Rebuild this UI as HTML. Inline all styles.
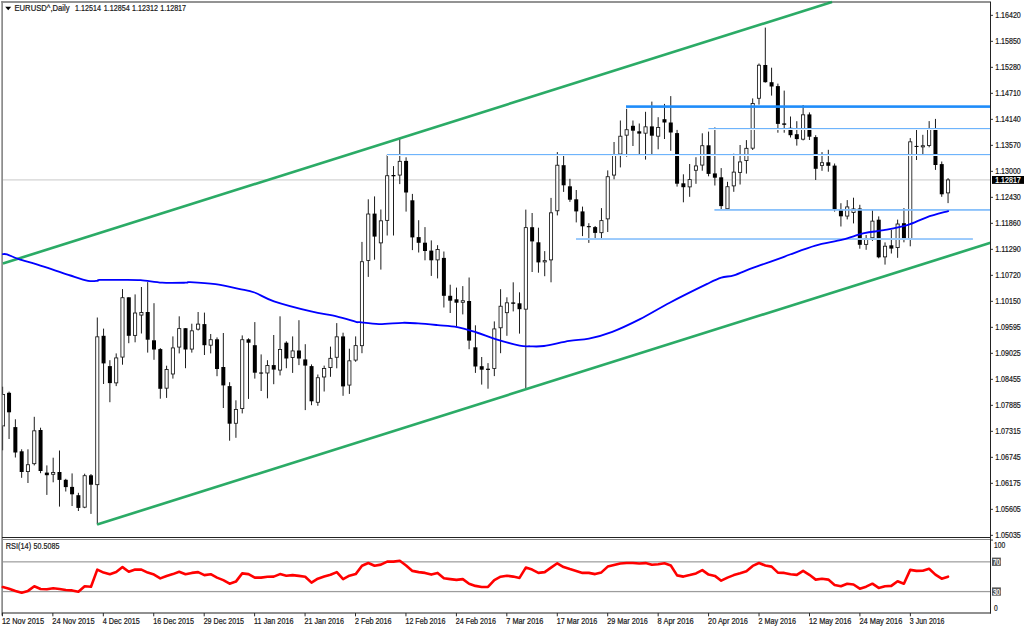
<!DOCTYPE html>
<html><head><meta charset="utf-8"><title>EURUSD Daily</title>
<style>html,body{margin:0;padding:0;background:#fff;width:1024px;height:630px;overflow:hidden;font-family:"Liberation Sans",sans-serif}</style>
</head><body>
<svg width="1024" height="630" viewBox="0 0 1024 630" style="position:absolute;left:0;top:0;display:block" font-family="'Liberation Sans', sans-serif">
<rect x="0" y="0" width="1024" height="630" fill="#fff"/>
<rect x="3" y="179.3" width="987.5" height="1.2" fill="#d2d2d2"/>
<rect x="1.3" y="1.1" width="989.7" height="1.8" fill="#888"/>
<rect x="1.3" y="1" width="1.65" height="614.5" fill="#888"/>
<clipPath id="cc"><rect x="2.25" y="2" width="990" height="536"/></clipPath><g clip-path="url(#cc)">
<rect x="2.3" y="386.70" width="0.8" height="7.40" fill="#000"/>
<rect x="2.3" y="426.30" width="0.8" height="24.00" fill="#000"/>
<rect x="2.9" y="394.10" width="1.5" height="32.20" fill="#fff"/>
<rect x="2.3" y="394.10" width="2.5" height="0.85" fill="#151515"/>
<rect x="2.3" y="425.45" width="2.5" height="0.85" fill="#151515"/>
<rect x="4.0" y="394.10" width="0.8" height="32.20" fill="#151515"/>
<rect x="8.58" y="391.60" width="0.95" height="47.40" fill="#111"/>
<rect x="7.05" y="392.80" width="4.00" height="19.50" fill="#000"/>
<rect x="14.88" y="419.30" width="0.95" height="38.20" fill="#111"/>
<rect x="13.35" y="427.10" width="4.00" height="25.40" fill="#000"/>
<rect x="21.18" y="449.30" width="0.95" height="28.50" fill="#111"/>
<rect x="19.66" y="451.30" width="4.00" height="20.70" fill="#000"/>
<rect x="27.48" y="449.30" width="0.95" height="33.70" fill="#111"/>
<rect x="26.38" y="464.72" width="3.16" height="6.86" fill="#fff" stroke="#151515" stroke-width="0.85"/>
<rect x="33.78" y="416.80" width="0.95" height="48.60" fill="#111"/>
<rect x="32.68" y="430.82" width="3.16" height="32.86" fill="#fff" stroke="#151515" stroke-width="0.85"/>
<rect x="40.09" y="427.70" width="0.95" height="45.50" fill="#111"/>
<rect x="38.56" y="430.00" width="4.00" height="41.00" fill="#000"/>
<rect x="46.39" y="465.40" width="0.95" height="29.50" fill="#111"/>
<rect x="44.86" y="472.60" width="4.00" height="2.60" fill="#000"/>
<rect x="52.69" y="457.70" width="0.95" height="24.60" fill="#111"/>
<rect x="51.59" y="472.42" width="3.16" height="1.86" fill="#fff" stroke="#151515" stroke-width="0.85"/>
<rect x="58.99" y="450.50" width="0.95" height="56.10" fill="#111"/>
<rect x="57.47" y="472.00" width="4.00" height="7.90" fill="#000"/>
<rect x="65.30" y="478.80" width="0.95" height="12.70" fill="#111"/>
<rect x="63.77" y="479.80" width="4.00" height="7.30" fill="#000"/>
<rect x="71.60" y="473.40" width="0.95" height="32.60" fill="#111"/>
<rect x="70.07" y="486.90" width="4.00" height="7.40" fill="#000"/>
<rect x="77.90" y="492.80" width="0.95" height="18.20" fill="#111"/>
<rect x="76.37" y="495.20" width="4.00" height="12.70" fill="#000"/>
<rect x="84.20" y="473.70" width="0.95" height="34.50" fill="#111"/>
<rect x="83.10" y="475.72" width="3.16" height="31.46" fill="#fff" stroke="#151515" stroke-width="0.85"/>
<rect x="90.50" y="474.00" width="0.95" height="39.90" fill="#111"/>
<rect x="88.98" y="475.30" width="4.00" height="9.40" fill="#000"/>
<rect x="96.81" y="317.50" width="0.95" height="207.00" fill="#111"/>
<rect x="95.70" y="336.82" width="3.16" height="147.86" fill="#fff" stroke="#151515" stroke-width="0.85"/>
<rect x="103.11" y="328.60" width="0.95" height="55.40" fill="#111"/>
<rect x="101.58" y="335.80" width="4.00" height="27.60" fill="#000"/>
<rect x="109.41" y="360.20" width="0.95" height="42.00" fill="#111"/>
<rect x="107.88" y="366.10" width="4.00" height="17.00" fill="#000"/>
<rect x="115.71" y="353.40" width="0.95" height="32.70" fill="#111"/>
<rect x="114.61" y="357.92" width="3.16" height="24.96" fill="#fff" stroke="#151515" stroke-width="0.85"/>
<rect x="122.01" y="289.10" width="0.95" height="75.60" fill="#111"/>
<rect x="120.91" y="297.72" width="3.16" height="59.36" fill="#fff" stroke="#151515" stroke-width="0.85"/>
<rect x="128.31" y="297.30" width="0.95" height="45.90" fill="#111"/>
<rect x="126.79" y="297.30" width="4.00" height="38.50" fill="#000"/>
<rect x="134.62" y="294.40" width="0.95" height="47.90" fill="#111"/>
<rect x="133.51" y="313.02" width="3.16" height="22.36" fill="#fff" stroke="#151515" stroke-width="0.85"/>
<rect x="140.92" y="287.00" width="0.95" height="46.50" fill="#111"/>
<rect x="139.81" y="312.42" width="3.16" height="2.66" fill="#fff" stroke="#151515" stroke-width="0.85"/>
<rect x="147.22" y="282.10" width="0.95" height="70.50" fill="#111"/>
<rect x="145.70" y="312.00" width="4.00" height="27.70" fill="#000"/>
<rect x="153.52" y="303.20" width="0.95" height="56.60" fill="#111"/>
<rect x="152.00" y="340.30" width="4.00" height="9.20" fill="#000"/>
<rect x="159.82" y="348.10" width="0.95" height="50.60" fill="#111"/>
<rect x="158.30" y="349.10" width="4.00" height="39.70" fill="#000"/>
<rect x="166.13" y="365.70" width="0.95" height="32.20" fill="#111"/>
<rect x="165.02" y="369.42" width="3.16" height="18.76" fill="#fff" stroke="#151515" stroke-width="0.85"/>
<rect x="172.43" y="336.40" width="0.95" height="42.20" fill="#111"/>
<rect x="171.32" y="347.92" width="3.16" height="26.06" fill="#fff" stroke="#151515" stroke-width="0.85"/>
<rect x="178.73" y="316.30" width="0.95" height="37.10" fill="#111"/>
<rect x="177.63" y="328.62" width="3.16" height="18.46" fill="#fff" stroke="#151515" stroke-width="0.85"/>
<rect x="185.03" y="328.20" width="0.95" height="40.00" fill="#111"/>
<rect x="183.51" y="328.20" width="4.00" height="21.30" fill="#000"/>
<rect x="191.34" y="323.70" width="0.95" height="28.90" fill="#111"/>
<rect x="190.23" y="330.82" width="3.16" height="18.26" fill="#fff" stroke="#151515" stroke-width="0.85"/>
<rect x="197.64" y="312.00" width="0.95" height="18.50" fill="#111"/>
<rect x="196.53" y="324.12" width="3.16" height="5.06" fill="#fff" stroke="#151515" stroke-width="0.85"/>
<rect x="203.94" y="312.60" width="0.95" height="42.40" fill="#111"/>
<rect x="202.41" y="324.10" width="4.00" height="21.10" fill="#000"/>
<rect x="210.24" y="334.00" width="0.95" height="19.40" fill="#111"/>
<rect x="209.14" y="339.72" width="3.16" height="5.46" fill="#fff" stroke="#151515" stroke-width="0.85"/>
<rect x="216.54" y="337.40" width="0.95" height="38.80" fill="#111"/>
<rect x="215.02" y="339.30" width="4.00" height="29.70" fill="#000"/>
<rect x="222.84" y="333.00" width="0.95" height="75.00" fill="#111"/>
<rect x="221.32" y="367.00" width="4.00" height="18.40" fill="#000"/>
<rect x="229.15" y="382.20" width="0.95" height="58.50" fill="#111"/>
<rect x="227.62" y="386.10" width="4.00" height="37.60" fill="#000"/>
<rect x="235.45" y="400.30" width="0.95" height="37.50" fill="#111"/>
<rect x="234.34" y="409.42" width="3.16" height="13.86" fill="#fff" stroke="#151515" stroke-width="0.85"/>
<rect x="241.75" y="335.40" width="0.95" height="78.00" fill="#111"/>
<rect x="240.65" y="339.72" width="3.16" height="68.86" fill="#fff" stroke="#151515" stroke-width="0.85"/>
<rect x="248.05" y="338.30" width="0.95" height="60.60" fill="#111"/>
<rect x="246.53" y="339.30" width="4.00" height="3.40" fill="#000"/>
<rect x="254.35" y="322.10" width="0.95" height="56.50" fill="#111"/>
<rect x="252.83" y="345.20" width="4.00" height="27.50" fill="#000"/>
<rect x="260.66" y="354.40" width="0.95" height="36.60" fill="#111"/>
<rect x="259.13" y="372.50" width="4.00" height="1.10" fill="#000"/>
<rect x="266.96" y="360.20" width="0.95" height="38.10" fill="#111"/>
<rect x="265.85" y="365.52" width="3.16" height="7.46" fill="#fff" stroke="#151515" stroke-width="0.85"/>
<rect x="273.26" y="335.00" width="0.95" height="49.20" fill="#111"/>
<rect x="271.74" y="365.10" width="4.00" height="4.50" fill="#000"/>
<rect x="279.56" y="316.30" width="0.95" height="59.10" fill="#111"/>
<rect x="278.46" y="349.52" width="3.16" height="20.56" fill="#fff" stroke="#151515" stroke-width="0.85"/>
<rect x="285.86" y="341.30" width="0.95" height="26.90" fill="#111"/>
<rect x="284.34" y="342.70" width="4.00" height="15.80" fill="#000"/>
<rect x="292.17" y="336.40" width="0.95" height="36.50" fill="#111"/>
<rect x="291.06" y="350.92" width="3.16" height="6.56" fill="#fff" stroke="#151515" stroke-width="0.85"/>
<rect x="298.47" y="320.20" width="0.95" height="44.90" fill="#111"/>
<rect x="296.94" y="350.50" width="4.00" height="8.00" fill="#000"/>
<rect x="304.77" y="344.20" width="0.95" height="65.90" fill="#111"/>
<rect x="303.25" y="359.40" width="4.00" height="6.20" fill="#000"/>
<rect x="311.07" y="364.40" width="0.95" height="40.80" fill="#111"/>
<rect x="309.55" y="366.10" width="4.00" height="35.20" fill="#000"/>
<rect x="317.37" y="374.50" width="0.95" height="31.30" fill="#111"/>
<rect x="316.27" y="377.72" width="3.16" height="24.56" fill="#fff" stroke="#151515" stroke-width="0.85"/>
<rect x="323.68" y="365.60" width="0.95" height="25.90" fill="#111"/>
<rect x="322.57" y="368.42" width="3.16" height="8.56" fill="#fff" stroke="#151515" stroke-width="0.85"/>
<rect x="329.98" y="346.60" width="0.95" height="30.20" fill="#111"/>
<rect x="328.87" y="358.32" width="3.16" height="9.26" fill="#fff" stroke="#151515" stroke-width="0.85"/>
<rect x="336.28" y="323.10" width="0.95" height="45.20" fill="#111"/>
<rect x="335.18" y="336.82" width="3.16" height="20.46" fill="#fff" stroke="#151515" stroke-width="0.85"/>
<rect x="342.58" y="332.70" width="0.95" height="63.10" fill="#111"/>
<rect x="341.06" y="336.40" width="4.00" height="50.00" fill="#000"/>
<rect x="348.88" y="348.70" width="0.95" height="45.20" fill="#111"/>
<rect x="347.78" y="360.82" width="3.16" height="24.26" fill="#fff" stroke="#151515" stroke-width="0.85"/>
<rect x="355.19" y="336.40" width="0.95" height="25.40" fill="#111"/>
<rect x="354.08" y="345.62" width="3.16" height="14.46" fill="#fff" stroke="#151515" stroke-width="0.85"/>
<rect x="361.49" y="241.90" width="0.95" height="111.30" fill="#111"/>
<rect x="360.38" y="261.72" width="3.16" height="83.96" fill="#fff" stroke="#151515" stroke-width="0.85"/>
<rect x="367.79" y="199.30" width="0.95" height="77.60" fill="#111"/>
<rect x="366.69" y="214.02" width="3.16" height="46.46" fill="#fff" stroke="#151515" stroke-width="0.85"/>
<rect x="374.09" y="196.40" width="0.95" height="63.30" fill="#111"/>
<rect x="372.57" y="213.60" width="4.00" height="23.00" fill="#000"/>
<rect x="380.39" y="209.50" width="0.95" height="60.10" fill="#111"/>
<rect x="379.29" y="220.82" width="3.16" height="22.06" fill="#fff" stroke="#151515" stroke-width="0.85"/>
<rect x="386.70" y="154.80" width="0.95" height="80.70" fill="#111"/>
<rect x="385.59" y="175.72" width="3.16" height="44.66" fill="#fff" stroke="#151515" stroke-width="0.85"/>
<rect x="393.00" y="166.10" width="0.95" height="69.40" fill="#111"/>
<rect x="391.47" y="175.00" width="4.00" height="1.30" fill="#000"/>
<rect x="399.30" y="138.80" width="0.95" height="45.30" fill="#111"/>
<rect x="398.20" y="161.32" width="3.16" height="13.76" fill="#fff" stroke="#151515" stroke-width="0.85"/>
<rect x="405.60" y="157.30" width="0.95" height="54.30" fill="#111"/>
<rect x="404.08" y="160.90" width="4.00" height="31.60" fill="#000"/>
<rect x="411.90" y="193.90" width="0.95" height="56.20" fill="#111"/>
<rect x="410.38" y="200.30" width="4.00" height="37.10" fill="#000"/>
<rect x="418.21" y="220.20" width="0.95" height="32.30" fill="#111"/>
<rect x="416.68" y="237.10" width="4.00" height="5.70" fill="#000"/>
<rect x="424.51" y="227.10" width="0.95" height="33.20" fill="#111"/>
<rect x="422.98" y="242.70" width="4.00" height="8.30" fill="#000"/>
<rect x="430.81" y="240.40" width="0.95" height="35.50" fill="#111"/>
<rect x="429.29" y="250.60" width="4.00" height="9.70" fill="#000"/>
<rect x="437.11" y="245.20" width="0.95" height="33.20" fill="#111"/>
<rect x="436.01" y="249.52" width="3.16" height="10.36" fill="#fff" stroke="#151515" stroke-width="0.85"/>
<rect x="443.41" y="251.50" width="0.95" height="56.00" fill="#111"/>
<rect x="441.89" y="257.90" width="4.00" height="37.90" fill="#000"/>
<rect x="449.72" y="284.70" width="0.95" height="28.30" fill="#111"/>
<rect x="448.19" y="295.80" width="4.00" height="4.90" fill="#000"/>
<rect x="456.02" y="287.60" width="0.95" height="38.70" fill="#111"/>
<rect x="454.49" y="299.30" width="4.00" height="3.40" fill="#000"/>
<rect x="462.32" y="286.10" width="0.95" height="28.30" fill="#111"/>
<rect x="461.22" y="300.72" width="3.16" height="1.56" fill="#fff" stroke="#151515" stroke-width="0.85"/>
<rect x="468.62" y="277.50" width="0.95" height="71.70" fill="#111"/>
<rect x="467.10" y="301.00" width="4.00" height="39.60" fill="#000"/>
<rect x="474.92" y="325.30" width="0.95" height="47.60" fill="#111"/>
<rect x="473.40" y="347.30" width="4.00" height="19.20" fill="#000"/>
<rect x="481.23" y="357.00" width="0.95" height="27.60" fill="#111"/>
<rect x="479.70" y="366.20" width="4.00" height="3.50" fill="#000"/>
<rect x="487.53" y="363.10" width="0.95" height="25.60" fill="#111"/>
<rect x="486.00" y="368.70" width="4.00" height="1.20" fill="#000"/>
<rect x="493.83" y="321.40" width="0.95" height="54.70" fill="#111"/>
<rect x="492.73" y="328.92" width="3.16" height="39.56" fill="#fff" stroke="#151515" stroke-width="0.85"/>
<rect x="500.13" y="289.20" width="0.95" height="64.00" fill="#111"/>
<rect x="499.03" y="306.22" width="3.16" height="21.56" fill="#fff" stroke="#151515" stroke-width="0.85"/>
<rect x="506.43" y="297.30" width="0.95" height="38.50" fill="#111"/>
<rect x="505.33" y="302.82" width="3.16" height="9.86" fill="#fff" stroke="#151515" stroke-width="0.85"/>
<rect x="512.74" y="282.30" width="0.95" height="29.10" fill="#111"/>
<rect x="511.21" y="302.40" width="4.00" height="1.40" fill="#000"/>
<rect x="519.04" y="292.30" width="0.95" height="41.30" fill="#111"/>
<rect x="517.51" y="303.30" width="4.00" height="5.90" fill="#000"/>
<rect x="525.34" y="209.60" width="0.95" height="178.40" fill="#111"/>
<rect x="524.24" y="227.62" width="3.16" height="81.56" fill="#fff" stroke="#151515" stroke-width="0.85"/>
<rect x="531.64" y="213.00" width="0.95" height="59.00" fill="#111"/>
<rect x="530.12" y="227.20" width="4.00" height="14.20" fill="#000"/>
<rect x="537.94" y="227.70" width="0.95" height="45.00" fill="#111"/>
<rect x="536.42" y="242.30" width="4.00" height="20.10" fill="#000"/>
<rect x="544.25" y="251.10" width="0.95" height="25.10" fill="#111"/>
<rect x="543.14" y="260.62" width="3.16" height="1.26" fill="#fff" stroke="#151515" stroke-width="0.85"/>
<rect x="550.55" y="197.90" width="0.95" height="84.40" fill="#111"/>
<rect x="549.44" y="212.82" width="3.16" height="47.06" fill="#fff" stroke="#151515" stroke-width="0.85"/>
<rect x="556.85" y="152.10" width="0.95" height="63.30" fill="#111"/>
<rect x="555.75" y="165.22" width="3.16" height="45.56" fill="#fff" stroke="#151515" stroke-width="0.85"/>
<rect x="563.15" y="155.00" width="0.95" height="36.90" fill="#111"/>
<rect x="561.63" y="165.20" width="4.00" height="20.10" fill="#000"/>
<rect x="569.45" y="178.80" width="0.95" height="23.10" fill="#111"/>
<rect x="567.93" y="186.30" width="4.00" height="13.40" fill="#000"/>
<rect x="575.76" y="190.00" width="0.95" height="32.40" fill="#111"/>
<rect x="574.23" y="199.30" width="4.00" height="12.10" fill="#000"/>
<rect x="582.06" y="206.60" width="0.95" height="29.50" fill="#111"/>
<rect x="580.53" y="211.40" width="4.00" height="14.90" fill="#000"/>
<rect x="588.36" y="223.20" width="0.95" height="19.70" fill="#111"/>
<rect x="586.84" y="226.10" width="4.00" height="1.10" fill="#000"/>
<rect x="594.66" y="226.00" width="0.95" height="12.40" fill="#111"/>
<rect x="593.14" y="227.10" width="4.00" height="5.80" fill="#000"/>
<rect x="600.96" y="208.10" width="0.95" height="30.70" fill="#111"/>
<rect x="599.86" y="220.62" width="3.16" height="12.06" fill="#fff" stroke="#151515" stroke-width="0.85"/>
<rect x="607.27" y="170.40" width="0.95" height="61.60" fill="#111"/>
<rect x="606.16" y="176.72" width="3.16" height="42.16" fill="#fff" stroke="#151515" stroke-width="0.85"/>
<rect x="613.57" y="142.00" width="0.95" height="37.30" fill="#111"/>
<rect x="612.46" y="154.92" width="3.16" height="20.16" fill="#fff" stroke="#151515" stroke-width="0.85"/>
<rect x="619.87" y="120.50" width="0.95" height="46.90" fill="#111"/>
<rect x="618.77" y="136.22" width="3.16" height="17.86" fill="#fff" stroke="#151515" stroke-width="0.85"/>
<rect x="626.17" y="108.80" width="0.95" height="47.90" fill="#111"/>
<rect x="625.07" y="129.72" width="3.16" height="5.46" fill="#fff" stroke="#151515" stroke-width="0.85"/>
<rect x="632.47" y="120.50" width="0.95" height="25.50" fill="#111"/>
<rect x="630.95" y="125.80" width="4.00" height="4.90" fill="#000"/>
<rect x="638.78" y="123.50" width="0.95" height="32.00" fill="#111"/>
<rect x="637.25" y="131.30" width="4.00" height="2.30" fill="#000"/>
<rect x="645.08" y="111.80" width="0.95" height="47.80" fill="#111"/>
<rect x="643.97" y="126.82" width="3.16" height="6.36" fill="#fff" stroke="#151515" stroke-width="0.85"/>
<rect x="651.38" y="101.60" width="0.95" height="52.60" fill="#111"/>
<rect x="649.86" y="126.40" width="4.00" height="9.30" fill="#000"/>
<rect x="657.68" y="117.20" width="0.95" height="32.10" fill="#111"/>
<rect x="656.58" y="127.42" width="3.16" height="8.76" fill="#fff" stroke="#151515" stroke-width="0.85"/>
<rect x="663.98" y="103.90" width="0.95" height="35.10" fill="#111"/>
<rect x="662.46" y="119.20" width="4.00" height="3.30" fill="#000"/>
<rect x="670.29" y="96.10" width="0.95" height="54.70" fill="#111"/>
<rect x="668.76" y="122.50" width="4.00" height="10.00" fill="#000"/>
<rect x="676.59" y="129.90" width="0.95" height="56.70" fill="#111"/>
<rect x="675.06" y="133.10" width="4.00" height="50.60" fill="#000"/>
<rect x="682.89" y="174.30" width="0.95" height="28.00" fill="#111"/>
<rect x="681.37" y="183.30" width="4.00" height="3.90" fill="#000"/>
<rect x="689.19" y="164.00" width="0.95" height="32.80" fill="#111"/>
<rect x="688.09" y="179.62" width="3.16" height="7.26" fill="#fff" stroke="#151515" stroke-width="0.85"/>
<rect x="695.49" y="157.20" width="0.95" height="26.60" fill="#111"/>
<rect x="694.39" y="165.92" width="3.16" height="4.36" fill="#fff" stroke="#151515" stroke-width="0.85"/>
<rect x="701.80" y="133.30" width="0.95" height="37.40" fill="#111"/>
<rect x="700.69" y="145.72" width="3.16" height="19.36" fill="#fff" stroke="#151515" stroke-width="0.85"/>
<rect x="708.10" y="131.60" width="0.95" height="44.70" fill="#111"/>
<rect x="706.57" y="145.30" width="4.00" height="28.60" fill="#000"/>
<rect x="714.40" y="127.40" width="0.95" height="58.10" fill="#111"/>
<rect x="712.88" y="173.40" width="4.00" height="4.30" fill="#000"/>
<rect x="720.70" y="168.10" width="0.95" height="41.10" fill="#111"/>
<rect x="719.18" y="177.30" width="4.00" height="28.80" fill="#000"/>
<rect x="727.00" y="181.80" width="0.95" height="27.70" fill="#111"/>
<rect x="725.90" y="186.72" width="3.16" height="22.06" fill="#fff" stroke="#151515" stroke-width="0.85"/>
<rect x="733.31" y="153.70" width="0.95" height="38.10" fill="#111"/>
<rect x="732.20" y="172.12" width="3.16" height="13.76" fill="#fff" stroke="#151515" stroke-width="0.85"/>
<rect x="739.61" y="145.00" width="0.95" height="39.50" fill="#111"/>
<rect x="738.50" y="161.92" width="3.16" height="10.46" fill="#fff" stroke="#151515" stroke-width="0.85"/>
<rect x="745.91" y="140.10" width="0.95" height="33.50" fill="#111"/>
<rect x="744.81" y="148.32" width="3.16" height="12.26" fill="#fff" stroke="#151515" stroke-width="0.85"/>
<rect x="752.21" y="98.40" width="0.95" height="51.60" fill="#111"/>
<rect x="751.11" y="103.52" width="3.16" height="44.66" fill="#fff" stroke="#151515" stroke-width="0.85"/>
<rect x="758.51" y="63.50" width="0.95" height="41.10" fill="#111"/>
<rect x="757.41" y="65.22" width="3.16" height="33.06" fill="#fff" stroke="#151515" stroke-width="0.85"/>
<rect x="764.82" y="27.60" width="0.95" height="55.00" fill="#111"/>
<rect x="763.29" y="65.00" width="4.00" height="17.20" fill="#000"/>
<rect x="771.12" y="67.70" width="0.95" height="27.90" fill="#111"/>
<rect x="769.59" y="82.20" width="4.00" height="4.30" fill="#000"/>
<rect x="777.42" y="83.60" width="0.95" height="49.10" fill="#111"/>
<rect x="775.90" y="86.10" width="4.00" height="37.80" fill="#000"/>
<rect x="783.72" y="90.60" width="0.95" height="42.10" fill="#111"/>
<rect x="782.20" y="123.40" width="4.00" height="1.40" fill="#000"/>
<rect x="790.02" y="116.50" width="0.95" height="21.00" fill="#111"/>
<rect x="788.50" y="127.80" width="4.00" height="7.40" fill="#000"/>
<rect x="796.33" y="121.20" width="0.95" height="24.40" fill="#111"/>
<rect x="794.80" y="134.20" width="4.00" height="4.90" fill="#000"/>
<rect x="802.63" y="105.00" width="0.95" height="35.40" fill="#111"/>
<rect x="801.52" y="114.82" width="3.16" height="24.36" fill="#fff" stroke="#151515" stroke-width="0.85"/>
<rect x="808.93" y="112.40" width="0.95" height="27.60" fill="#111"/>
<rect x="807.41" y="114.40" width="4.00" height="22.30" fill="#000"/>
<rect x="815.23" y="135.20" width="0.95" height="44.80" fill="#111"/>
<rect x="813.71" y="137.10" width="4.00" height="31.70" fill="#000"/>
<rect x="821.53" y="152.10" width="0.95" height="18.70" fill="#111"/>
<rect x="820.43" y="162.72" width="3.16" height="2.66" fill="#fff" stroke="#151515" stroke-width="0.85"/>
<rect x="827.84" y="149.80" width="0.95" height="21.90" fill="#111"/>
<rect x="826.31" y="162.30" width="4.00" height="3.50" fill="#000"/>
<rect x="834.14" y="163.50" width="0.95" height="48.10" fill="#111"/>
<rect x="832.61" y="165.60" width="4.00" height="44.10" fill="#000"/>
<rect x="840.44" y="203.20" width="0.95" height="23.30" fill="#111"/>
<rect x="838.92" y="210.10" width="4.00" height="6.20" fill="#000"/>
<rect x="846.74" y="200.10" width="0.95" height="19.30" fill="#111"/>
<rect x="845.64" y="206.92" width="3.16" height="9.16" fill="#fff" stroke="#151515" stroke-width="0.85"/>
<rect x="853.04" y="197.70" width="0.95" height="25.70" fill="#111"/>
<rect x="851.94" y="208.92" width="3.16" height="3.56" fill="#fff" stroke="#151515" stroke-width="0.85"/>
<rect x="859.35" y="204.80" width="0.95" height="43.90" fill="#111"/>
<rect x="857.82" y="208.50" width="4.00" height="36.30" fill="#000"/>
<rect x="865.65" y="235.00" width="0.95" height="14.80" fill="#111"/>
<rect x="864.54" y="238.42" width="3.16" height="5.96" fill="#fff" stroke="#151515" stroke-width="0.85"/>
<rect x="871.95" y="210.10" width="0.95" height="30.80" fill="#111"/>
<rect x="870.85" y="221.12" width="3.16" height="16.66" fill="#fff" stroke="#151515" stroke-width="0.85"/>
<rect x="878.25" y="216.40" width="0.95" height="41.90" fill="#111"/>
<rect x="876.73" y="219.70" width="4.00" height="37.60" fill="#000"/>
<rect x="884.55" y="242.40" width="0.95" height="22.20" fill="#111"/>
<rect x="883.45" y="246.22" width="3.16" height="10.66" fill="#fff" stroke="#151515" stroke-width="0.85"/>
<rect x="890.86" y="230.00" width="0.95" height="23.50" fill="#111"/>
<rect x="889.33" y="245.30" width="4.00" height="3.30" fill="#000"/>
<rect x="897.16" y="219.60" width="0.95" height="38.20" fill="#111"/>
<rect x="896.05" y="224.02" width="3.16" height="23.56" fill="#fff" stroke="#151515" stroke-width="0.85"/>
<rect x="903.46" y="208.10" width="0.95" height="34.20" fill="#111"/>
<rect x="901.94" y="223.20" width="4.00" height="15.60" fill="#000"/>
<rect x="909.76" y="138.10" width="0.95" height="108.20" fill="#111"/>
<rect x="908.66" y="141.82" width="3.16" height="97.16" fill="#fff" stroke="#151515" stroke-width="0.85"/>
<rect x="916.06" y="128.90" width="0.95" height="31.10" fill="#111"/>
<rect x="914.54" y="145.90" width="4.00" height="1.00" fill="#000"/>
<rect x="922.37" y="134.80" width="0.95" height="19.90" fill="#111"/>
<rect x="921.26" y="145.72" width="3.16" height="1.16" fill="#fff" stroke="#151515" stroke-width="0.85"/>
<rect x="928.67" y="121.10" width="0.95" height="26.20" fill="#111"/>
<rect x="927.56" y="129.32" width="3.16" height="16.16" fill="#fff" stroke="#151515" stroke-width="0.85"/>
<rect x="934.97" y="118.90" width="0.95" height="51.00" fill="#111"/>
<rect x="933.45" y="128.90" width="4.00" height="36.10" fill="#000"/>
<rect x="941.27" y="161.50" width="0.95" height="35.30" fill="#111"/>
<rect x="939.75" y="164.10" width="4.00" height="30.20" fill="#000"/>
<rect x="947.57" y="178.10" width="0.95" height="25.00" fill="#111"/>
<rect x="946.47" y="179.92" width="3.16" height="12.96" fill="#fff" stroke="#151515" stroke-width="0.85"/>
</g>
<rect x="387" y="154" width="603.5" height="1" fill="#6eb4fc"/><rect x="387" y="155" width="603.5" height="1" fill="#eaf4fe"/>
<rect x="708.4" y="128" width="282" height="1" fill="#6eb4fc"/><rect x="708.4" y="129" width="282" height="1" fill="#eaf4fe"/>
<rect x="714.4" y="209.05" width="276" height="1.75" fill="#84befb"/>
<rect x="576" y="238.05" width="396.9" height="1.95" fill="#9bcafc"/>
<rect x="626" y="105.3" width="364.5" height="2.6" fill="#1e8cfa"/>
<line x1="97.1" y1="524.50" x2="990.5" y2="242.81" stroke="#2bab66" stroke-width="2.65"/>
<line x1="2.9" y1="263.50" x2="832.0" y2="2.00" stroke="#2bab66" stroke-width="2.65"/>
<path fill="none" stroke="#0000ff" stroke-width="1.85" stroke-linejoin="round" stroke-linecap="round" d="M2.90 254.10 C3.58 254.15 4.35 253.57 7.00 254.40 C9.65 255.23 14.10 257.53 18.80 259.10 C23.50 260.67 29.53 262.05 35.20 263.80 C40.87 265.55 46.93 267.65 52.80 269.60 C58.67 271.55 64.52 273.63 70.40 275.50 C76.28 277.37 83.58 279.92 88.10 280.80 C92.62 281.68 95.55 280.95 97.50 280.80 C99.45 280.65 96.05 280.05 99.80 279.90 C103.55 279.75 113.20 279.85 120.00 279.90 C126.80 279.95 133.58 279.73 140.60 280.20 C147.62 280.67 154.62 282.28 162.10 282.70 C169.58 283.12 180.85 282.80 185.50 282.70 C190.15 282.60 185.02 281.87 190.00 282.10 C194.98 282.33 207.27 282.97 215.40 284.10 C223.53 285.23 232.28 287.50 238.80 288.90 C245.32 290.30 248.63 290.43 254.50 292.50 C260.37 294.57 264.57 298.15 274.00 301.30 C283.43 304.45 300.68 308.90 311.10 311.40 C321.52 313.90 329.02 314.57 336.50 316.30 C343.98 318.03 352.17 320.82 356.00 321.80 C359.83 322.78 355.67 321.82 359.50 322.20 C363.33 322.58 371.83 324.00 379.00 324.10 C386.17 324.20 395.98 322.92 402.50 322.80 C409.02 322.68 412.23 323.02 418.10 323.40 C423.97 323.78 431.18 324.48 437.70 325.10 C444.22 325.72 450.70 325.87 457.20 327.10 C463.70 328.33 470.18 330.45 476.70 332.50 C483.22 334.55 489.13 337.22 496.30 339.40 C503.47 341.58 514.08 344.45 519.70 345.60 C525.32 346.75 525.95 346.23 530.00 346.30 C534.05 346.37 537.43 346.90 544.00 346.00 C550.57 345.10 561.92 342.13 569.40 340.90 C576.88 339.67 581.75 340.12 588.90 338.60 C596.05 337.08 603.78 335.05 612.30 331.80 C620.82 328.55 630.43 323.95 640.00 319.10 C649.57 314.25 658.50 308.57 669.70 302.70 C680.90 296.83 698.60 288.07 707.20 283.90 C715.80 279.73 716.87 279.13 721.30 277.70 C725.73 276.27 729.12 276.73 733.80 275.30 C738.48 273.87 744.72 270.87 749.40 269.10 C754.08 267.33 756.70 266.53 761.90 264.70 C767.10 262.87 775.92 259.80 780.60 258.10 C785.28 256.40 784.20 256.58 790.00 254.50 C795.80 252.42 806.65 248.07 815.40 245.60 C824.15 243.13 834.37 241.77 842.50 239.70 C850.63 237.63 857.32 234.78 864.20 233.20 C871.08 231.62 876.63 231.53 883.80 230.20 C890.97 228.87 900.05 227.35 907.20 225.20 C914.35 223.05 919.87 219.65 926.70 217.30 C933.53 214.95 944.62 212.13 948.20 211.10"/>
<rect x="3" y="561.25" width="987.5" height="1.2" fill="#9c9c9c"/>
<rect x="3" y="590.95" width="987.5" height="1.25" fill="#9c9c9c"/>
<polyline fill="none" stroke="#ff0000" stroke-width="2.6" stroke-linejoin="round" stroke-linecap="round" points="2.8,587.0 9.1,588.7 15.4,590.9 21.7,592.8 28.0,590.9 34.3,586.2 40.6,589.0 46.9,589.2 53.2,588.2 59.5,589.0 65.8,590.0 72.1,590.4 78.4,591.7 84.7,586.2 91.0,586.7 97.3,569.6 103.6,572.6 109.9,574.2 116.2,572.1 122.5,567.1 128.8,571.8 135.1,569.6 141.4,569.6 147.7,572.6 154.0,574.6 160.3,578.4 166.6,576.0 172.9,574.1 179.2,571.8 185.5,574.2 191.8,572.9 198.1,572.1 204.4,575.1 210.7,574.2 217.0,577.6 223.3,580.1 229.6,583.7 235.9,581.6 242.2,573.4 248.5,574.1 254.8,577.6 261.1,577.6 267.4,576.7 273.7,576.6 280.0,574.1 286.3,575.7 292.6,575.1 298.9,575.9 305.2,576.7 311.5,582.6 317.8,578.7 324.2,576.5 330.5,574.8 336.8,572.1 343.1,579.1 349.4,575.7 355.7,574.1 362.0,565.8 368.3,563.0 374.6,565.8 380.9,564.6 387.2,561.6 393.5,561.6 399.8,560.8 406.1,565.5 412.4,570.9 418.7,572.1 425.0,572.9 431.3,574.6 437.6,572.9 443.9,578.2 450.2,579.1 456.5,579.9 462.8,579.1 469.1,583.7 475.4,585.9 481.7,587.0 488.0,586.9 494.3,580.1 500.6,576.7 506.9,575.7 513.2,576.6 519.5,577.9 525.8,567.6 532.1,569.6 538.4,572.9 544.7,572.1 551.0,567.6 557.3,563.3 563.6,567.1 569.9,569.1 576.2,570.9 582.5,572.9 588.8,572.9 595.1,574.1 601.4,572.4 607.7,566.6 614.0,565.0 620.3,563.5 626.6,563.0 632.9,563.0 639.3,563.5 645.6,563.1 651.9,564.8 658.2,564.3 664.5,563.3 670.8,565.5 677.1,575.4 683.4,576.6 689.7,575.1 696.0,573.4 702.3,570.1 708.6,574.6 714.9,575.9 721.2,580.7 727.5,577.6 733.8,575.1 740.1,573.3 746.4,571.3 752.7,565.9 759.0,563.0 765.3,565.5 771.6,566.6 777.9,572.6 784.2,572.9 790.5,574.2 796.8,574.9 803.1,570.8 809.4,574.8 815.7,579.6 822.0,578.7 828.3,579.6 834.6,584.9 840.9,586.2 847.2,583.7 853.5,584.5 859.8,588.7 866.1,586.7 872.4,583.7 878.7,587.9 885.0,586.2 891.3,585.9 897.6,581.2 903.9,583.7 910.2,569.9 916.5,570.9 922.8,570.8 929.1,568.8 935.4,574.6 941.7,578.7 948.0,576.7"/>
<rect x="827.6" y="1.8" width="4.6" height="0.9" fill="#1f8a50"/>
<rect x="2" y="537" width="989" height="1" fill="#222"/>
<rect x="2" y="539" width="989" height="1" fill="#8c8c8c"/>
<rect x="2" y="612.5" width="989" height="1" fill="#222"/>
<rect x="990" y="2" width="1" height="611.5" fill="#222"/>
<rect x="991" y="14.85" width="2" height="0.9" fill="#222"/>
<text stroke-width="0.22" x="995.2" y="18.10" font-size="8.6" fill="#1a1a1a" stroke="#1a1a1a" textLength="25.6" lengthAdjust="spacingAndGlyphs">1.16420</text>
<rect x="991" y="40.85" width="2" height="0.9" fill="#222"/>
<text stroke-width="0.22" x="995.2" y="44.10" font-size="8.6" fill="#1a1a1a" stroke="#1a1a1a" textLength="25.6" lengthAdjust="spacingAndGlyphs">1.15850</text>
<rect x="991" y="66.85" width="2" height="0.9" fill="#222"/>
<text stroke-width="0.22" x="995.2" y="70.10" font-size="8.6" fill="#1a1a1a" stroke="#1a1a1a" textLength="25.6" lengthAdjust="spacingAndGlyphs">1.15280</text>
<rect x="991" y="92.85" width="2" height="0.9" fill="#222"/>
<text stroke-width="0.22" x="995.2" y="96.10" font-size="8.6" fill="#1a1a1a" stroke="#1a1a1a" textLength="25.6" lengthAdjust="spacingAndGlyphs">1.14710</text>
<rect x="991" y="118.85" width="2" height="0.9" fill="#222"/>
<text stroke-width="0.22" x="995.2" y="122.10" font-size="8.6" fill="#1a1a1a" stroke="#1a1a1a" textLength="25.6" lengthAdjust="spacingAndGlyphs">1.14140</text>
<rect x="991" y="144.85" width="2" height="0.9" fill="#222"/>
<text stroke-width="0.22" x="995.2" y="148.10" font-size="8.6" fill="#1a1a1a" stroke="#1a1a1a" textLength="25.6" lengthAdjust="spacingAndGlyphs">1.13570</text>
<rect x="991" y="170.85" width="2" height="0.9" fill="#222"/>
<text stroke-width="0.22" x="995.2" y="174.10" font-size="8.6" fill="#1a1a1a" stroke="#1a1a1a" textLength="25.6" lengthAdjust="spacingAndGlyphs">1.13000</text>
<rect x="991" y="196.85" width="2" height="0.9" fill="#222"/>
<text stroke-width="0.22" x="995.2" y="200.10" font-size="8.6" fill="#1a1a1a" stroke="#1a1a1a" textLength="25.6" lengthAdjust="spacingAndGlyphs">1.12430</text>
<rect x="991" y="222.85" width="2" height="0.9" fill="#222"/>
<text stroke-width="0.22" x="995.2" y="226.10" font-size="8.6" fill="#1a1a1a" stroke="#1a1a1a" textLength="25.6" lengthAdjust="spacingAndGlyphs">1.11860</text>
<rect x="991" y="248.85" width="2" height="0.9" fill="#222"/>
<text stroke-width="0.22" x="995.2" y="252.10" font-size="8.6" fill="#1a1a1a" stroke="#1a1a1a" textLength="25.6" lengthAdjust="spacingAndGlyphs">1.11290</text>
<rect x="991" y="274.85" width="2" height="0.9" fill="#222"/>
<text stroke-width="0.22" x="995.2" y="278.10" font-size="8.6" fill="#1a1a1a" stroke="#1a1a1a" textLength="25.6" lengthAdjust="spacingAndGlyphs">1.10720</text>
<rect x="991" y="300.85" width="2" height="0.9" fill="#222"/>
<text stroke-width="0.22" x="995.2" y="304.10" font-size="8.6" fill="#1a1a1a" stroke="#1a1a1a" textLength="25.6" lengthAdjust="spacingAndGlyphs">1.10150</text>
<rect x="991" y="326.85" width="2" height="0.9" fill="#222"/>
<text stroke-width="0.22" x="995.2" y="330.10" font-size="8.6" fill="#1a1a1a" stroke="#1a1a1a" textLength="25.6" lengthAdjust="spacingAndGlyphs">1.09595</text>
<rect x="991" y="352.85" width="2" height="0.9" fill="#222"/>
<text stroke-width="0.22" x="995.2" y="356.10" font-size="8.6" fill="#1a1a1a" stroke="#1a1a1a" textLength="25.6" lengthAdjust="spacingAndGlyphs">1.09025</text>
<rect x="991" y="378.85" width="2" height="0.9" fill="#222"/>
<text stroke-width="0.22" x="995.2" y="382.10" font-size="8.6" fill="#1a1a1a" stroke="#1a1a1a" textLength="25.6" lengthAdjust="spacingAndGlyphs">1.08455</text>
<rect x="991" y="404.85" width="2" height="0.9" fill="#222"/>
<text stroke-width="0.22" x="995.2" y="408.10" font-size="8.6" fill="#1a1a1a" stroke="#1a1a1a" textLength="25.6" lengthAdjust="spacingAndGlyphs">1.07885</text>
<rect x="991" y="430.85" width="2" height="0.9" fill="#222"/>
<text stroke-width="0.22" x="995.2" y="434.10" font-size="8.6" fill="#1a1a1a" stroke="#1a1a1a" textLength="25.6" lengthAdjust="spacingAndGlyphs">1.07315</text>
<rect x="991" y="456.85" width="2" height="0.9" fill="#222"/>
<text stroke-width="0.22" x="995.2" y="460.10" font-size="8.6" fill="#1a1a1a" stroke="#1a1a1a" textLength="25.6" lengthAdjust="spacingAndGlyphs">1.06745</text>
<rect x="991" y="482.85" width="2" height="0.9" fill="#222"/>
<text stroke-width="0.22" x="995.2" y="486.10" font-size="8.6" fill="#1a1a1a" stroke="#1a1a1a" textLength="25.6" lengthAdjust="spacingAndGlyphs">1.06175</text>
<rect x="991" y="508.85" width="2" height="0.9" fill="#222"/>
<text stroke-width="0.22" x="995.2" y="512.10" font-size="8.6" fill="#1a1a1a" stroke="#1a1a1a" textLength="25.6" lengthAdjust="spacingAndGlyphs">1.05605</text>
<rect x="991" y="534.85" width="2" height="0.9" fill="#222"/>
<text stroke-width="0.22" x="995.2" y="538.10" font-size="8.6" fill="#1a1a1a" stroke="#1a1a1a" textLength="25.6" lengthAdjust="spacingAndGlyphs">1.05035</text>
<rect x="992" y="176" width="32" height="7.9" fill="#000"/>
<text stroke-width="0.22" x="995.2" y="182.9" font-size="8.6" fill="#fff" stroke="#fff" textLength="25.6" lengthAdjust="spacingAndGlyphs">1.12817</text>
<rect x="991" y="539.6" width="2" height="0.9" fill="#222"/>
<text stroke-width="0.22" x="994.0" y="547.5" font-size="8.6" fill="#1a1a1a" stroke="#1a1a1a" textLength="11.2" lengthAdjust="spacingAndGlyphs">100</text>
<rect x="992" y="557.6" width="8.9" height="8.3" fill="#5a5a5a"/>
<text stroke-width="0.22" x="993" y="564.8" font-size="8.6" fill="#fff" stroke="#fff" textLength="7.2" lengthAdjust="spacingAndGlyphs">70</text>
<rect x="992" y="587.4" width="8.9" height="8.3" fill="#5a5a5a"/>
<text stroke-width="0.22" x="993" y="594.6" font-size="8.6" fill="#fff" stroke="#fff" textLength="7.2" lengthAdjust="spacingAndGlyphs">30</text>
<text stroke-width="0.22" x="993.9" y="611.2" font-size="8.6" fill="#1a1a1a" stroke="#1a1a1a" textLength="3.7" lengthAdjust="spacingAndGlyphs">0</text>
<rect x="1.95" y="613" width="0.95" height="3.3" fill="#222"/>
<text stroke-width="0.22" x="1.90" y="624.0" font-size="8.6" fill="#1a1a1a" stroke="#1a1a1a" textLength="42.2" lengthAdjust="spacingAndGlyphs">12 Nov 2015</text>
<rect x="52.39" y="613" width="0.95" height="3.3" fill="#222"/>
<text stroke-width="0.22" x="52.34" y="624.0" font-size="8.6" fill="#1a1a1a" stroke="#1a1a1a" textLength="42.2" lengthAdjust="spacingAndGlyphs">24 Nov 2015</text>
<rect x="102.83" y="613" width="0.95" height="3.3" fill="#222"/>
<text stroke-width="0.22" x="102.78" y="624.0" font-size="8.6" fill="#1a1a1a" stroke="#1a1a1a" textLength="37.0" lengthAdjust="spacingAndGlyphs">4 Dec 2015</text>
<rect x="153.27" y="613" width="0.95" height="3.3" fill="#222"/>
<text stroke-width="0.22" x="153.22" y="624.0" font-size="8.6" fill="#1a1a1a" stroke="#1a1a1a" textLength="40.8" lengthAdjust="spacingAndGlyphs">16 Dec 2015</text>
<rect x="203.71" y="613" width="0.95" height="3.3" fill="#222"/>
<text stroke-width="0.22" x="203.66" y="624.0" font-size="8.6" fill="#1a1a1a" stroke="#1a1a1a" textLength="40.4" lengthAdjust="spacingAndGlyphs">29 Dec 2015</text>
<rect x="254.15" y="613" width="0.95" height="3.3" fill="#222"/>
<text stroke-width="0.22" x="254.10" y="624.0" font-size="8.6" fill="#1a1a1a" stroke="#1a1a1a" textLength="39.4" lengthAdjust="spacingAndGlyphs">11 Jan 2016</text>
<rect x="304.59" y="613" width="0.95" height="3.3" fill="#222"/>
<text stroke-width="0.22" x="304.54" y="624.0" font-size="8.6" fill="#1a1a1a" stroke="#1a1a1a" textLength="39.4" lengthAdjust="spacingAndGlyphs">21 Jan 2016</text>
<rect x="355.03" y="613" width="0.95" height="3.3" fill="#222"/>
<text stroke-width="0.22" x="354.98" y="624.0" font-size="8.6" fill="#1a1a1a" stroke="#1a1a1a" textLength="36.6" lengthAdjust="spacingAndGlyphs">2 Feb 2016</text>
<rect x="405.47" y="613" width="0.95" height="3.3" fill="#222"/>
<text stroke-width="0.22" x="405.42" y="624.0" font-size="8.6" fill="#1a1a1a" stroke="#1a1a1a" textLength="40.1" lengthAdjust="spacingAndGlyphs">12 Feb 2016</text>
<rect x="455.91" y="613" width="0.95" height="3.3" fill="#222"/>
<text stroke-width="0.22" x="455.86" y="624.0" font-size="8.6" fill="#1a1a1a" stroke="#1a1a1a" textLength="40.1" lengthAdjust="spacingAndGlyphs">24 Feb 2016</text>
<rect x="506.35" y="613" width="0.95" height="3.3" fill="#222"/>
<text stroke-width="0.22" x="506.30" y="624.0" font-size="8.6" fill="#1a1a1a" stroke="#1a1a1a" textLength="37.1" lengthAdjust="spacingAndGlyphs">7 Mar 2016</text>
<rect x="556.79" y="613" width="0.95" height="3.3" fill="#222"/>
<text stroke-width="0.22" x="556.74" y="624.0" font-size="8.6" fill="#1a1a1a" stroke="#1a1a1a" textLength="40.6" lengthAdjust="spacingAndGlyphs">17 Mar 2016</text>
<rect x="607.23" y="613" width="0.95" height="3.3" fill="#222"/>
<text stroke-width="0.22" x="607.18" y="624.0" font-size="8.6" fill="#1a1a1a" stroke="#1a1a1a" textLength="40.6" lengthAdjust="spacingAndGlyphs">29 Mar 2016</text>
<rect x="657.67" y="613" width="0.95" height="3.3" fill="#222"/>
<text stroke-width="0.22" x="657.62" y="624.0" font-size="8.6" fill="#1a1a1a" stroke="#1a1a1a" textLength="36.1" lengthAdjust="spacingAndGlyphs">8 Apr 2016</text>
<rect x="708.11" y="613" width="0.95" height="3.3" fill="#222"/>
<text stroke-width="0.22" x="708.06" y="624.0" font-size="8.6" fill="#1a1a1a" stroke="#1a1a1a" textLength="39.9" lengthAdjust="spacingAndGlyphs">20 Apr 2016</text>
<rect x="758.55" y="613" width="0.95" height="3.3" fill="#222"/>
<text stroke-width="0.22" x="758.50" y="624.0" font-size="8.6" fill="#1a1a1a" stroke="#1a1a1a" textLength="37.6" lengthAdjust="spacingAndGlyphs">2 May 2016</text>
<rect x="808.99" y="613" width="0.95" height="3.3" fill="#222"/>
<text stroke-width="0.22" x="808.94" y="624.0" font-size="8.6" fill="#1a1a1a" stroke="#1a1a1a" textLength="42.5" lengthAdjust="spacingAndGlyphs">12 May 2016</text>
<rect x="859.43" y="613" width="0.95" height="3.3" fill="#222"/>
<text stroke-width="0.22" x="859.38" y="624.0" font-size="8.6" fill="#1a1a1a" stroke="#1a1a1a" textLength="43.0" lengthAdjust="spacingAndGlyphs">24 May 2016</text>
<rect x="909.87" y="613" width="0.95" height="3.3" fill="#222"/>
<text stroke-width="0.22" x="909.82" y="624.0" font-size="8.6" fill="#1a1a1a" stroke="#1a1a1a" textLength="34.7" lengthAdjust="spacingAndGlyphs">3 Jun 2016</text>
<path d="M5.2 6.8 L11.2 6.8 L8.2 10.3 Z" fill="#000"/>
<text stroke-width="0.22" x="14.5" y="11.0" font-size="8.6" fill="#1a1a1a" stroke="#1a1a1a" textLength="55" lengthAdjust="spacingAndGlyphs">EURUSD^,Daily</text>
<text stroke-width="0.22" x="75.0" y="11.0" font-size="8.6" fill="#1a1a1a" stroke="#1a1a1a" textLength="25.9" lengthAdjust="spacingAndGlyphs">1.12514</text>
<text stroke-width="0.22" x="103.8" y="11.0" font-size="8.6" fill="#1a1a1a" stroke="#1a1a1a" textLength="25.9" lengthAdjust="spacingAndGlyphs">1.12854</text>
<text stroke-width="0.22" x="132.0" y="11.0" font-size="8.6" fill="#1a1a1a" stroke="#1a1a1a" textLength="25.9" lengthAdjust="spacingAndGlyphs">1.12312</text>
<text stroke-width="0.22" x="160.2" y="11.0" font-size="8.6" fill="#1a1a1a" stroke="#1a1a1a" textLength="25.9" lengthAdjust="spacingAndGlyphs">1.12817</text>
<text stroke-width="0.22" x="5.7" y="549.0" font-size="8.6" fill="#1a1a1a" stroke="#1a1a1a" textLength="25.5" lengthAdjust="spacingAndGlyphs">RSI(14)</text>
<text stroke-width="0.22" x="33.6" y="549.0" font-size="8.6" fill="#1a1a1a" stroke="#1a1a1a" textLength="25.8" lengthAdjust="spacingAndGlyphs">50.5085</text>
</svg>
</body></html>
